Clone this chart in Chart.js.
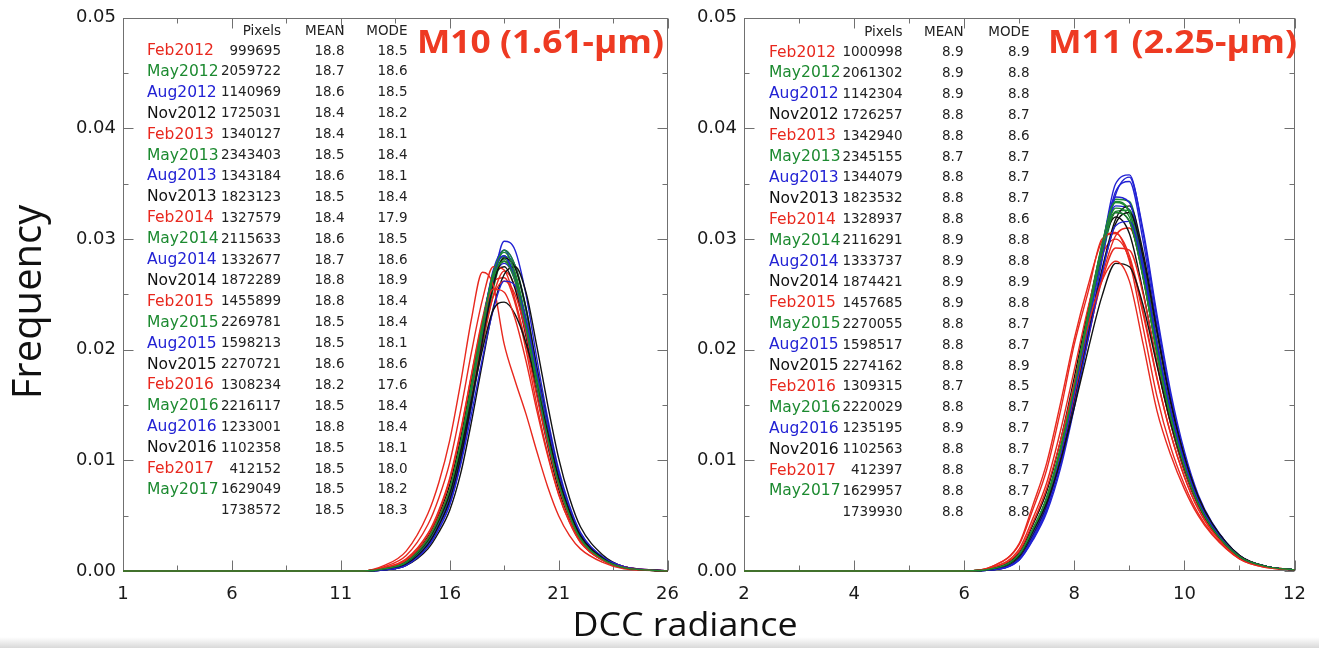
<!DOCTYPE html>
<html>
<head>
<meta charset="utf-8">
<script src="https://cdn.jsdelivr.net/npm/chart.js@4.4.0/dist/chart.umd.min.js"></script>
<style>
html,body{margin:0;padding:0;background:#fff;width:1319px;height:648px;overflow:hidden;}
#c1{position:absolute;left:0;top:0;}
#c2{position:absolute;left:692px;top:0;}
#xlab{position:absolute;left:685px;top:608px;font-family:"Open Sans";font-size:32px;line-height:32px;color:#111;white-space:nowrap;transform:translateX(-50%) scaleX(1.12);}
#shade{position:absolute;left:0;top:637px;width:1319px;height:11px;background:linear-gradient(#ffffff,#d9d9d9);}
</style>
</head>
<body>
<canvas id="c1" width="692" height="648"></canvas>
<canvas id="c2" width="627" height="648"></canvas>
<div id="xlab">DCC radiance</div>
<div id="shade"></div>
<script>
// ---------------- data ----------------
const seasons = ['Feb2012','May2012','Aug2012','Nov2012','Feb2013','May2013','Aug2013','Nov2013','Feb2014','May2014','Aug2014','Nov2014','Feb2015','May2015','Aug2015','Nov2015','Feb2016','May2016','Aug2016','Nov2016','Feb2017','May2017',''];

const pixelsM10 = [999695,2059722,1140969,1725031,1340127,2343403,1343184,1823123,1327579,2115633,1332677,1872289,1455899,2269781,1598213,2270721,1308234,2216117,1233001,1102358,412152,1629049,1738572];
const meanM10 = [18.8,18.7,18.6,18.4,18.4,18.5,18.6,18.5,18.4,18.6,18.7,18.8,18.8,18.5,18.5,18.6,18.2,18.5,18.8,18.5,18.5,18.5,18.5];
const modeM10 = [18.5,18.6,18.5,18.2,18.1,18.4,18.1,18.4,17.9,18.5,18.6,18.9,18.4,18.4,18.1,18.6,17.6,18.4,18.4,18.1,18.0,18.2,18.3];

const pixelsM11 = [1000998,2061302,1142304,1726257,1342940,2345155,1344079,1823532,1328937,2116291,1333737,1874421,1457685,2270055,1598517,2274162,1309315,2220029,1235195,1102563,412397,1629957,1739930];
const meanM11 = [8.9,8.9,8.9,8.8,8.8,8.7,8.8,8.8,8.8,8.9,8.9,8.9,8.9,8.8,8.8,8.8,8.7,8.8,8.9,8.8,8.8,8.8,8.8];
const modeM11 = [8.9,8.8,8.8,8.7,8.6,8.7,8.7,8.7,8.6,8.8,8.8,8.9,8.8,8.7,8.7,8.9,8.5,8.7,8.7,8.7,8.7,8.7,8.8];

// radiance sample points (x) for the M10 histograms
const radianceM10 = [1,12,13,14,15,15.5,16,16.5,17,17.5,18,18.5,19,19.5,20,20.5,21,21.5,22,23,24,26];
const freqM10 = [
 [0,0,.0002,.0008,.0027,.0044,.0067,.0105,.0152,.0204,.0249,.0271,.0257,.0219,.0167,.0120,.0079,.0050,.0029,.0011,.0003,0],
 [0,0,.0002,.0007,.0025,.0042,.0064,.0102,.0150,.0205,.0255,.0284,.0276,.0238,.0183,.0132,.0087,.0055,.0032,.0012,.0003,0],
 [0,0,.0001,.0006,.0024,.0041,.0064,.0103,.0154,.0212,.0262,.0290,.0276,.0236,.0180,.0129,.0085,.0054,.0032,.0012,.0004,0],
 [0,0,.0002,.0009,.0031,.0051,.0078,.0120,.0172,.0225,.0265,.0275,.0255,.0212,.0160,.0113,.0074,.0047,.0027,.0010,.0003,0],
 [0,0,.0003,.0011,.0034,.0055,.0084,.0127,.0178,.0228,.0262,.0265,.0242,.0200,.0150,.0106,.0070,.0044,.0026,.0010,.0003,0],
 [0,0,.0002,.0008,.0028,.0047,.0072,.0113,.0165,.0220,.0267,.0285,.0266,.0224,.0170,.0121,.0080,.0050,.0029,.0011,.0003,0],
 [0,0,.0001,.0006,.0025,.0043,.0068,.0110,.0164,.0222,.0272,.0290,.0268,.0224,.0170,.0122,.0081,.0052,.0031,.0012,.0004,0],
 [0,0,.0002,.0008,.0028,.0046,.0071,.0111,.0162,.0216,.0263,.0280,.0265,.0226,.0173,.0124,.0082,.0052,.0030,.0011,.0003,0],
 [0,0,.0004,.0014,.0042,.0066,.0098,.0145,.0198,.0245,.0275,.0272,.0245,.0205,.0158,.0115,.0077,.0048,.0028,.0010,.0003,0],
 [0,0,.0002,.0007,.0026,.0044,.0068,.0108,.0160,.0216,.0266,.0290,.0276,.0236,.0180,.0130,.0086,.0055,.0032,.0012,.0003,0],
 [0,0,.0001,.0005,.0022,.0038,.0060,.0098,.0150,.0208,.0262,.0298,.0290,.0250,.0192,.0138,.0092,.0059,.0035,.0013,.0004,0],
 [0,0,.0001,.0005,.0020,.0035,.0055,.0088,.0135,.0188,.0238,.0268,.0275,.0252,.0203,.0150,.0102,.0066,.0040,.0015,.0004,0],
 [0,0,.0002,.0009,.0030,.0049,.0074,.0112,.0160,.0208,.0248,.0262,.0250,.0215,.0166,.0121,.0081,.0052,.0031,.0012,.0004,0],
 [0,0,.0002,.0008,.0027,.0045,.0070,.0110,.0162,.0217,.0264,.0282,.0266,.0226,.0172,.0123,.0081,.0051,.0030,.0011,.0003,0],
 [0,0,.0001,.0006,.0025,.0043,.0068,.0110,.0165,.0223,.0270,.0285,.0262,.0220,.0167,.0120,.0080,.0051,.0030,.0011,.0003,0],
 [0,0,.0001,.0006,.0024,.0041,.0064,.0102,.0152,.0208,.0258,.0283,.0274,.0238,.0184,.0133,.0088,.0056,.0033,.0012,.0003,0],
 [0,0,.0005,.0018,.0052,.0080,.0118,.0170,.0228,.0270,.0258,.0205,.0172,.0142,.0108,.0076,.0050,.0032,.0020,.0008,.0002,0],
 [0,0,.0002,.0008,.0027,.0045,.0070,.0112,.0165,.0222,.0270,.0288,.0270,.0228,.0173,.0124,.0082,.0052,.0030,.0011,.0003,0],
 [0,0,.0001,.0005,.0022,.0038,.0060,.0096,.0142,.0192,.0236,.0262,.0258,.0228,.0180,.0132,.0088,.0057,.0034,.0013,.0004,0],
 [0,0,.0002,.0008,.0028,.0046,.0070,.0108,.0155,.0200,.0236,.0243,.0232,.0206,.0168,.0125,.0084,.0054,.0032,.0012,.0003,0],
 [0,0,.0003,.0010,.0033,.0053,.0082,.0125,.0177,.0225,.0255,.0252,.0228,.0190,.0145,.0104,.0069,.0044,.0026,.0010,.0003,0],
 [0,0,.0002,.0008,.0029,.0048,.0074,.0116,.0169,.0223,.0266,.0280,.0262,.0221,.0168,.0120,.0079,.0050,.0029,.0011,.0003,0],
 [0,0,.0001,.0006,.0025,.0042,.0066,.0106,.0158,.0214,.0262,.0278,.0263,.0224,.0171,.0123,.0081,.0052,.0030,.0011,.0003,0]
];

// radiance sample points (x) for the M11 histograms
const radianceM11 = [2,6,6.5,7,7.25,7.5,7.75,8,8.25,8.5,8.75,9,9.25,9.5,9.75,10,10.25,10.5,11,11.5,12];
const freqM11 = [
 [0,0,.0002,.0013,.0034,.0060,.0101,.0153,.0210,.0265,.0303,.0310,.0270,.0205,.0145,.0099,.0065,.0042,.0014,.0004,.0001],
 [0,0,.0002,.0014,.0036,.0064,.0107,.0162,.0222,.0282,.0325,.0326,.0275,.0205,.0143,.0097,.0063,.0041,.0013,.0004,.0001],
 [0,0,.0001,.0011,.0031,.0057,.0099,.0155,.0220,.0288,.0343,.0352,.0298,.0222,.0155,.0103,.0066,.0042,.0013,.0004,.0001],
 [0,0,.0002,.0017,.0042,.0072,.0118,.0175,.0236,.0292,.0320,.0305,.0252,.0188,.0133,.0090,.0059,.0038,.0012,.0004,.0001],
 [0,0,.0003,.0020,.0048,.0080,.0127,.0182,.0238,.0285,.0300,.0282,.0232,.0174,.0124,.0085,.0056,.0037,.0012,.0004,.0001],
 [0,0,.0002,.0015,.0038,.0067,.0112,.0169,.0232,.0294,.0333,.0324,.0270,.0200,.0140,.0095,.0062,.0040,.0013,.0004,.0001],
 [0,0,.0001,.0010,.0029,.0055,.0097,.0153,.0219,.0290,.0350,.0358,.0305,.0228,.0158,.0105,.0067,.0043,.0014,.0004,.0001],
 [0,0,.0002,.0015,.0038,.0066,.0110,.0166,.0228,.0288,.0324,.0316,.0265,.0197,.0138,.0094,.0061,.0039,.0013,.0004,.0001],
 [0,0,.0004,.0024,.0056,.0092,.0145,.0205,.0252,.0300,.0305,.0285,.0235,.0175,.0124,.0085,.0056,.0036,.0012,.0004,.0001],
 [0,0,.0002,.0013,.0035,.0063,.0106,.0163,.0226,.0291,.0336,.0334,.0281,.0209,.0146,.0099,.0064,.0041,.0013,.0004,.0001],
 [0,0,.0001,.0010,.0028,.0053,.0093,.0148,.0212,.0280,.0340,.0356,.0308,.0232,.0162,.0108,.0069,.0044,.0014,.0004,.0001],
 [0,0,.0001,.0012,.0032,.0058,.0098,.0152,.0212,.0272,.0318,.0330,.0288,.0218,.0153,.0103,.0067,.0043,.0014,.0004,.0001],
 [0,0,.0002,.0015,.0038,.0065,.0106,.0157,.0212,.0262,.0292,.0290,.0250,.0188,.0133,.0091,.0060,.0039,.0013,.0004,.0001],
 [0,0,.0002,.0015,.0038,.0066,.0111,.0167,.0230,.0290,.0328,.0320,.0266,.0197,.0138,.0094,.0061,.0039,.0013,.0004,.0001],
 [0,0,.0001,.0012,.0033,.0061,.0104,.0161,.0226,.0292,.0338,.0333,.0278,.0206,.0144,.0097,.0063,.0041,.0013,.0004,.0001],
 [0,0,.0001,.0012,.0032,.0058,.0099,.0152,.0212,.0270,.0314,.0324,.0284,.0216,.0152,.0103,.0067,.0043,.0014,.0004,.0001],
 [0,0,.0004,.0025,.0060,.0098,.0152,.0210,.0258,.0298,.0306,.0280,.0220,.0158,.0112,.0078,.0052,.0034,.0011,.0003,.0001],
 [0,0,.0002,.0014,.0037,.0065,.0110,.0168,.0232,.0295,.0334,.0325,.0270,.0200,.0140,.0095,.0062,.0040,.0013,.0004,.0001],
 [0,0,.0001,.0011,.0031,.0057,.0097,.0150,.0209,.0268,.0312,.0316,.0272,.0206,.0146,.0099,.0064,.0041,.0013,.0004,.0001],
 [0,0,.0002,.0014,.0036,.0062,.0100,.0148,.0200,.0248,.0278,.0275,.0240,.0186,.0134,.0093,.0061,.0039,.0013,.0004,.0001],
 [0,0,.0003,.0018,.0044,.0075,.0118,.0170,.0222,.0262,.0280,.0262,.0205,.0145,.0105,.0074,.0050,.0033,.0011,.0003,.0001],
 [0,0,.0002,.0015,.0038,.0066,.0110,.0166,.0228,.0288,.0324,.0316,.0265,.0197,.0138,.0094,.0061,.0039,.0013,.0004,.0001],
 [0,0,.0001,.0012,.0033,.0061,.0103,.0160,.0224,.0288,.0330,.0327,.0274,.0204,.0143,.0097,.0063,.0041,.0013,.0004,.0001]
];

// tick values
const yTicks = [0, 0.01, 0.02, 0.03, 0.04, 0.05];
const yMinorTicks = [0.005, 0.015, 0.025, 0.035, 0.045];
const xTicksM10 = [1, 6, 11, 16, 21, 26];
const xMinorM10 = [3.5, 8.5, 13.5, 18.5, 23.5];
const xTicksM11 = [2, 4, 6, 8, 10, 12];
const xMinorM11 = [3, 5, 7, 9, 11];

// ---------------- styles ----------------
const RED = '#e8281e', GREEN = '#1c8a30', BLUE = '#2222d4', BLACK = '#111111';
const cycle = [RED, GREEN, BLUE, BLACK];
const TITLE_RED = '#ee3a22';
const TICK_FONT = '"DejaVu Sans"';

function makeDecor(cfg) {
  return {
    id: 'decor',
    beforeDatasetsDraw(chart) {
      const {ctx, chartArea: a} = chart;
      const sx = chart.scales.x, sy = chart.scales.y;
      const L = Math.round(a.left) + 0.5, R = Math.round(a.right) - 0.5;
      const T = Math.round(a.top) + 0.5, B = Math.round(a.bottom) - 0.5;
      ctx.save();
      ctx.strokeStyle = '#707070';
      ctx.lineWidth = 1;
      ctx.strokeRect(L, T, R - L, B - T);
      ctx.beginPath();
      const tx = (vals, len) => vals.forEach(v => {
        const p = Math.round(sx.getPixelForValue(v)) + 0.5;
        ctx.moveTo(p, B); ctx.lineTo(p, B - len);
        ctx.moveTo(p, T); ctx.lineTo(p, T + len);
      });
      const ty = (vals, len) => vals.forEach(v => {
        const p = Math.round(sy.getPixelForValue(v)) + 0.5;
        ctx.moveTo(L, p); ctx.lineTo(L + len, p);
        ctx.moveTo(R, p); ctx.lineTo(R - len, p);
      });
      tx(cfg.xMajor, 10); tx(cfg.xMinor, 5);
      ty(yTicks, 10); ty(yMinorTicks, 5);
      ctx.stroke();
      ctx.restore();
    },
    afterDraw(chart) {
      const ctx = chart.ctx;
      ctx.save();
      ctx.font = 'bold 32px "Open Sans"';
      const w = ctx.measureText(cfg.title).width;
      ctx.translate(cfg.titleX, cfg.titleY);
      ctx.scale(cfg.titleW / w, 1);
      ctx.fillStyle = TITLE_RED;
      ctx.textBaseline = 'alphabetic';
      ctx.textAlign = 'left';
      ctx.fillText(cfg.title, 0, 0);
      ctx.restore();

      ctx.save();
      ctx.textBaseline = 'middle';
      ctx.fillStyle = '#222';
      ctx.font = '13.5px ' + TICK_FONT;
      ctx.textAlign = 'right';
      ctx.fillText('Pixels', cfg.pixR, cfg.headY);
      ctx.fillText('MEAN', cfg.meanR, cfg.headY);
      ctx.fillText('MODE', cfg.modeR, cfg.headY);
      for (let i = 0; i < seasons.length; i++) {
        const y = cfg.row0 + cfg.dy * i;
        ctx.font = '13.5px ' + TICK_FONT;
        ctx.textAlign = 'right';
        ctx.fillStyle = '#222';
        ctx.fillText(String(cfg.pixels[i]), cfg.pixR, y);
        ctx.fillText(cfg.means[i].toFixed(1), cfg.meanR, y);
        ctx.fillText(cfg.modes[i].toFixed(1), cfg.modeR, y);
        if (seasons[i]) {
          ctx.font = '15.5px ' + TICK_FONT;
          ctx.textAlign = 'left';
          ctx.fillStyle = cycle[i % 4];
          ctx.fillText(seasons[i], cfg.monthX, y);
        }
      }
      ctx.restore();

      if (cfg.yTitle) {
        ctx.save();
        ctx.translate(30, 302);
        ctx.rotate(-Math.PI / 2);
        ctx.font = '40px "Open Sans"';
        ctx.fillStyle = '#111';
        ctx.textAlign = 'center';
        ctx.textBaseline = 'middle';
        ctx.fillText(cfg.yTitle, 0, 0);
        ctx.restore();
      }
    }
  };
}

function makeChart(id, xs, series, cfg) {
  const datasets = series.map((ys, i) => ({
    label: seasons[i] || 'Aug2017',
    data: ys.map((y, j) => ({x: xs[j], y: y})),
    borderColor: cycle[i % 4],
    borderWidth: 1.4,
    pointRadius: 0,
    fill: false,
    cubicInterpolationMode: 'monotone',
    clip: false,
    order: i === series.length - 1 ? 0 : -i
  }));
  return new Chart(document.getElementById(id), {
    type: 'line',
    data: {datasets},
    options: {
      responsive: false,
      animation: false,
      devicePixelRatio: 1,
      events: [],
      layout: {padding: {top: 15, right: cfg.padRight, left: 0, bottom: 0}},
      plugins: {legend: {display: false}, tooltip: {enabled: false}},
      scales: {
        x: {
          type: 'linear', min: cfg.xMin, max: cfg.xMax,
          grid: {display: false, drawTicks: false},
          border: {display: false},
          afterBuildTicks: s => { s.ticks = cfg.xMajor.map(v => ({value: v})); },
          afterFit: s => { s.height = 77; },
          ticks: {
            autoSkip: false, maxRotation: 0, padding: 13,
            color: '#1a1a1a', font: {family: 'DejaVu Sans', size: 18},
            callback: v => String(v)
          }
        },
        y: {
          type: 'linear', min: 0, max: 0.05,
          grid: {display: false, drawTicks: false},
          border: {display: false},
          afterBuildTicks: s => { s.ticks = yTicks.map(v => ({value: v})); },
          afterFit: s => { s.width = cfg.yWidth; },
          ticks: {
            padding: 7,
            color: '#1a1a1a', font: {family: 'DejaVu Sans', size: 18},
            callback: v => Number(v).toFixed(2)
          }
        }
      }
    },
    plugins: [makeDecor(cfg)]
  });
}

makeChart('c1', radianceM10, freqM10, {
  xMin: 1, xMax: 26, xMajor: xTicksM10, xMinor: xMinorM10,
  yWidth: 123, padRight: 13,
  title: 'M10 (1.61-µm)', titleX: 417, titleY: 53, titleW: 247,
  monthX: 147, pixR: 281, meanR: 344.5, modeR: 407.5, headY: 31, row0: 51, dy: 20.9,
  pixels: pixelsM10, means: meanM10, modes: modeM10,
  yTitle: 'Frequency'
});

makeChart('c2', radianceM11, freqM11, {
  xMin: 2, xMax: 12, xMajor: xTicksM11, xMinor: xMinorM11,
  yWidth: 52, padRight: 21,
  title: 'M11 (2.25-µm)', titleX: 356, titleY: 53, titleW: 249,
  monthX: 77, pixR: 210.5, meanR: 271.5, modeR: 337.5, headY: 32, row0: 52.5, dy: 20.9,
  pixels: pixelsM11, means: meanM11, modes: modeM11,
  yTitle: null
});
</script>
</body>
</html>
